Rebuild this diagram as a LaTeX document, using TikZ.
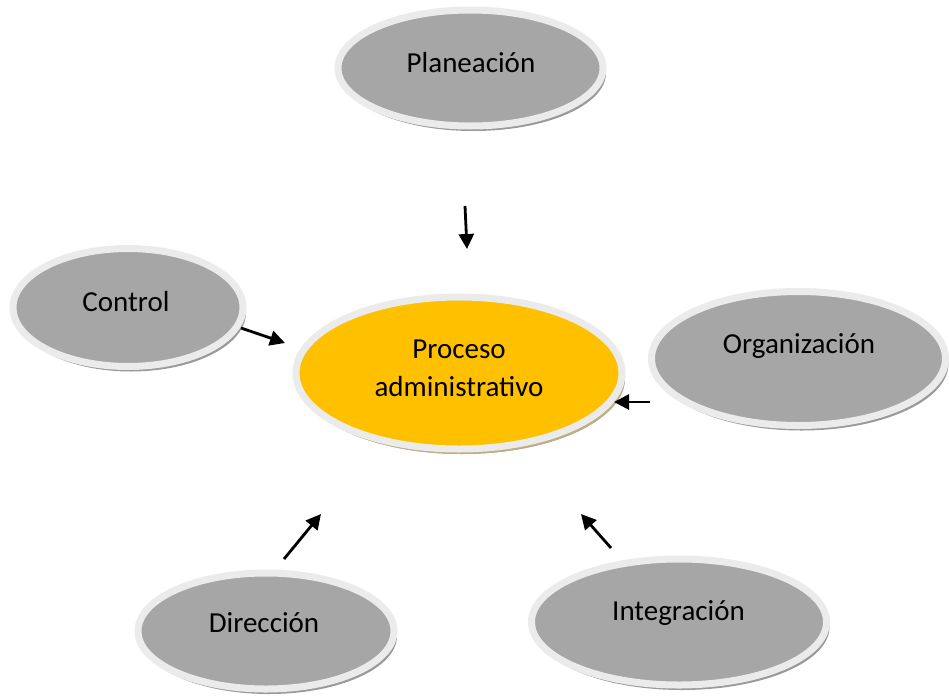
\documentclass[tikz,border=0pt]{standalone}
\usepackage{fontspec}
\setmainfont{Carlito}
\usetikzlibrary{shapes.geometric,arrows.meta,shadows}
\definecolor{grayfill}{HTML}{A6A6A6}
\definecolor{ringc}{HTML}{EBEBEB}
\definecolor{shadg}{HTML}{9A9A9A}
\definecolor{orangefill}{HTML}{FFC000}
\definecolor{shadt}{HTML}{BFAE80}
\begin{document}
\begin{tikzpicture}[x=1pt,y=-1pt,
  bub/.style={ellipse, draw=ringc, line width=7pt, inner sep=0pt, fill=grayfill,
    drop shadow={shadow xshift=3pt, shadow yshift=-5pt, fill=shadg, opacity=1}},
  core/.style={bub, fill=orangefill,
    drop shadow={shadow xshift=3pt, shadow yshift=-5pt, fill=shadt, opacity=1}},
  lbl/.style={font=\fontsize{29}{38}\selectfont, inner sep=0pt, align=center},
  arr/.style={line width=2.8pt, -{Triangle[length=15pt,width=15pt]}}]
\useasboundingbox (0,0) rectangle (949,696);
\node[bub, minimum width=265pt, minimum height=116pt] (P) at (470.5,68) {};
\node[bub, minimum width=230pt, minimum height=118pt] (C) at (128,307.5) {};
\node[core, minimum width=326pt, minimum height=152pt] (A) at (459,373) {};
\node[bub, minimum width=294pt, minimum height=134pt] (O) at (798.5,358.5) {};
\node[bub, minimum width=256pt, minimum height=116pt] (D) at (266,631) {};
\node[bub, minimum width=295pt, minimum height=126pt] (I) at (679,622) {};
\node[lbl, anchor=base] (Pt) at (471,72) {Planeación};
\node[lbl, anchor=base] (Ct) at (126,311) {Control};
\node[lbl] (At) at (459,368) {Proceso\\administrativo};
\node[lbl, anchor=base] (Ot) at (799,353) {Organización};
\node[lbl, anchor=base] (Dt) at (264,632) {Dirección};
\node[lbl, anchor=base] (It) at (678.5,620) {Integración};
\coordinate (p1) at (465,206);
\coordinate (p2) at (467,249);
\coordinate (c1) at (241,328);
\coordinate (c2) at (285,343);
\coordinate (o1) at (650,402);
\coordinate (o2) at (614,402);
\coordinate (d1) at (284,559);
\coordinate (d2) at (321,514);
\coordinate (i1) at (611,548);
\coordinate (i2) at (581,514);
\draw[arr] (p1) -- (p2);
\draw[arr] (c1) -- (c2);
\draw[arr] (o1) -- (o2);
\draw[arr] (d1) -- (d2);
\draw[arr] (i1) -- (i2);
\end{tikzpicture}
\end{document}
